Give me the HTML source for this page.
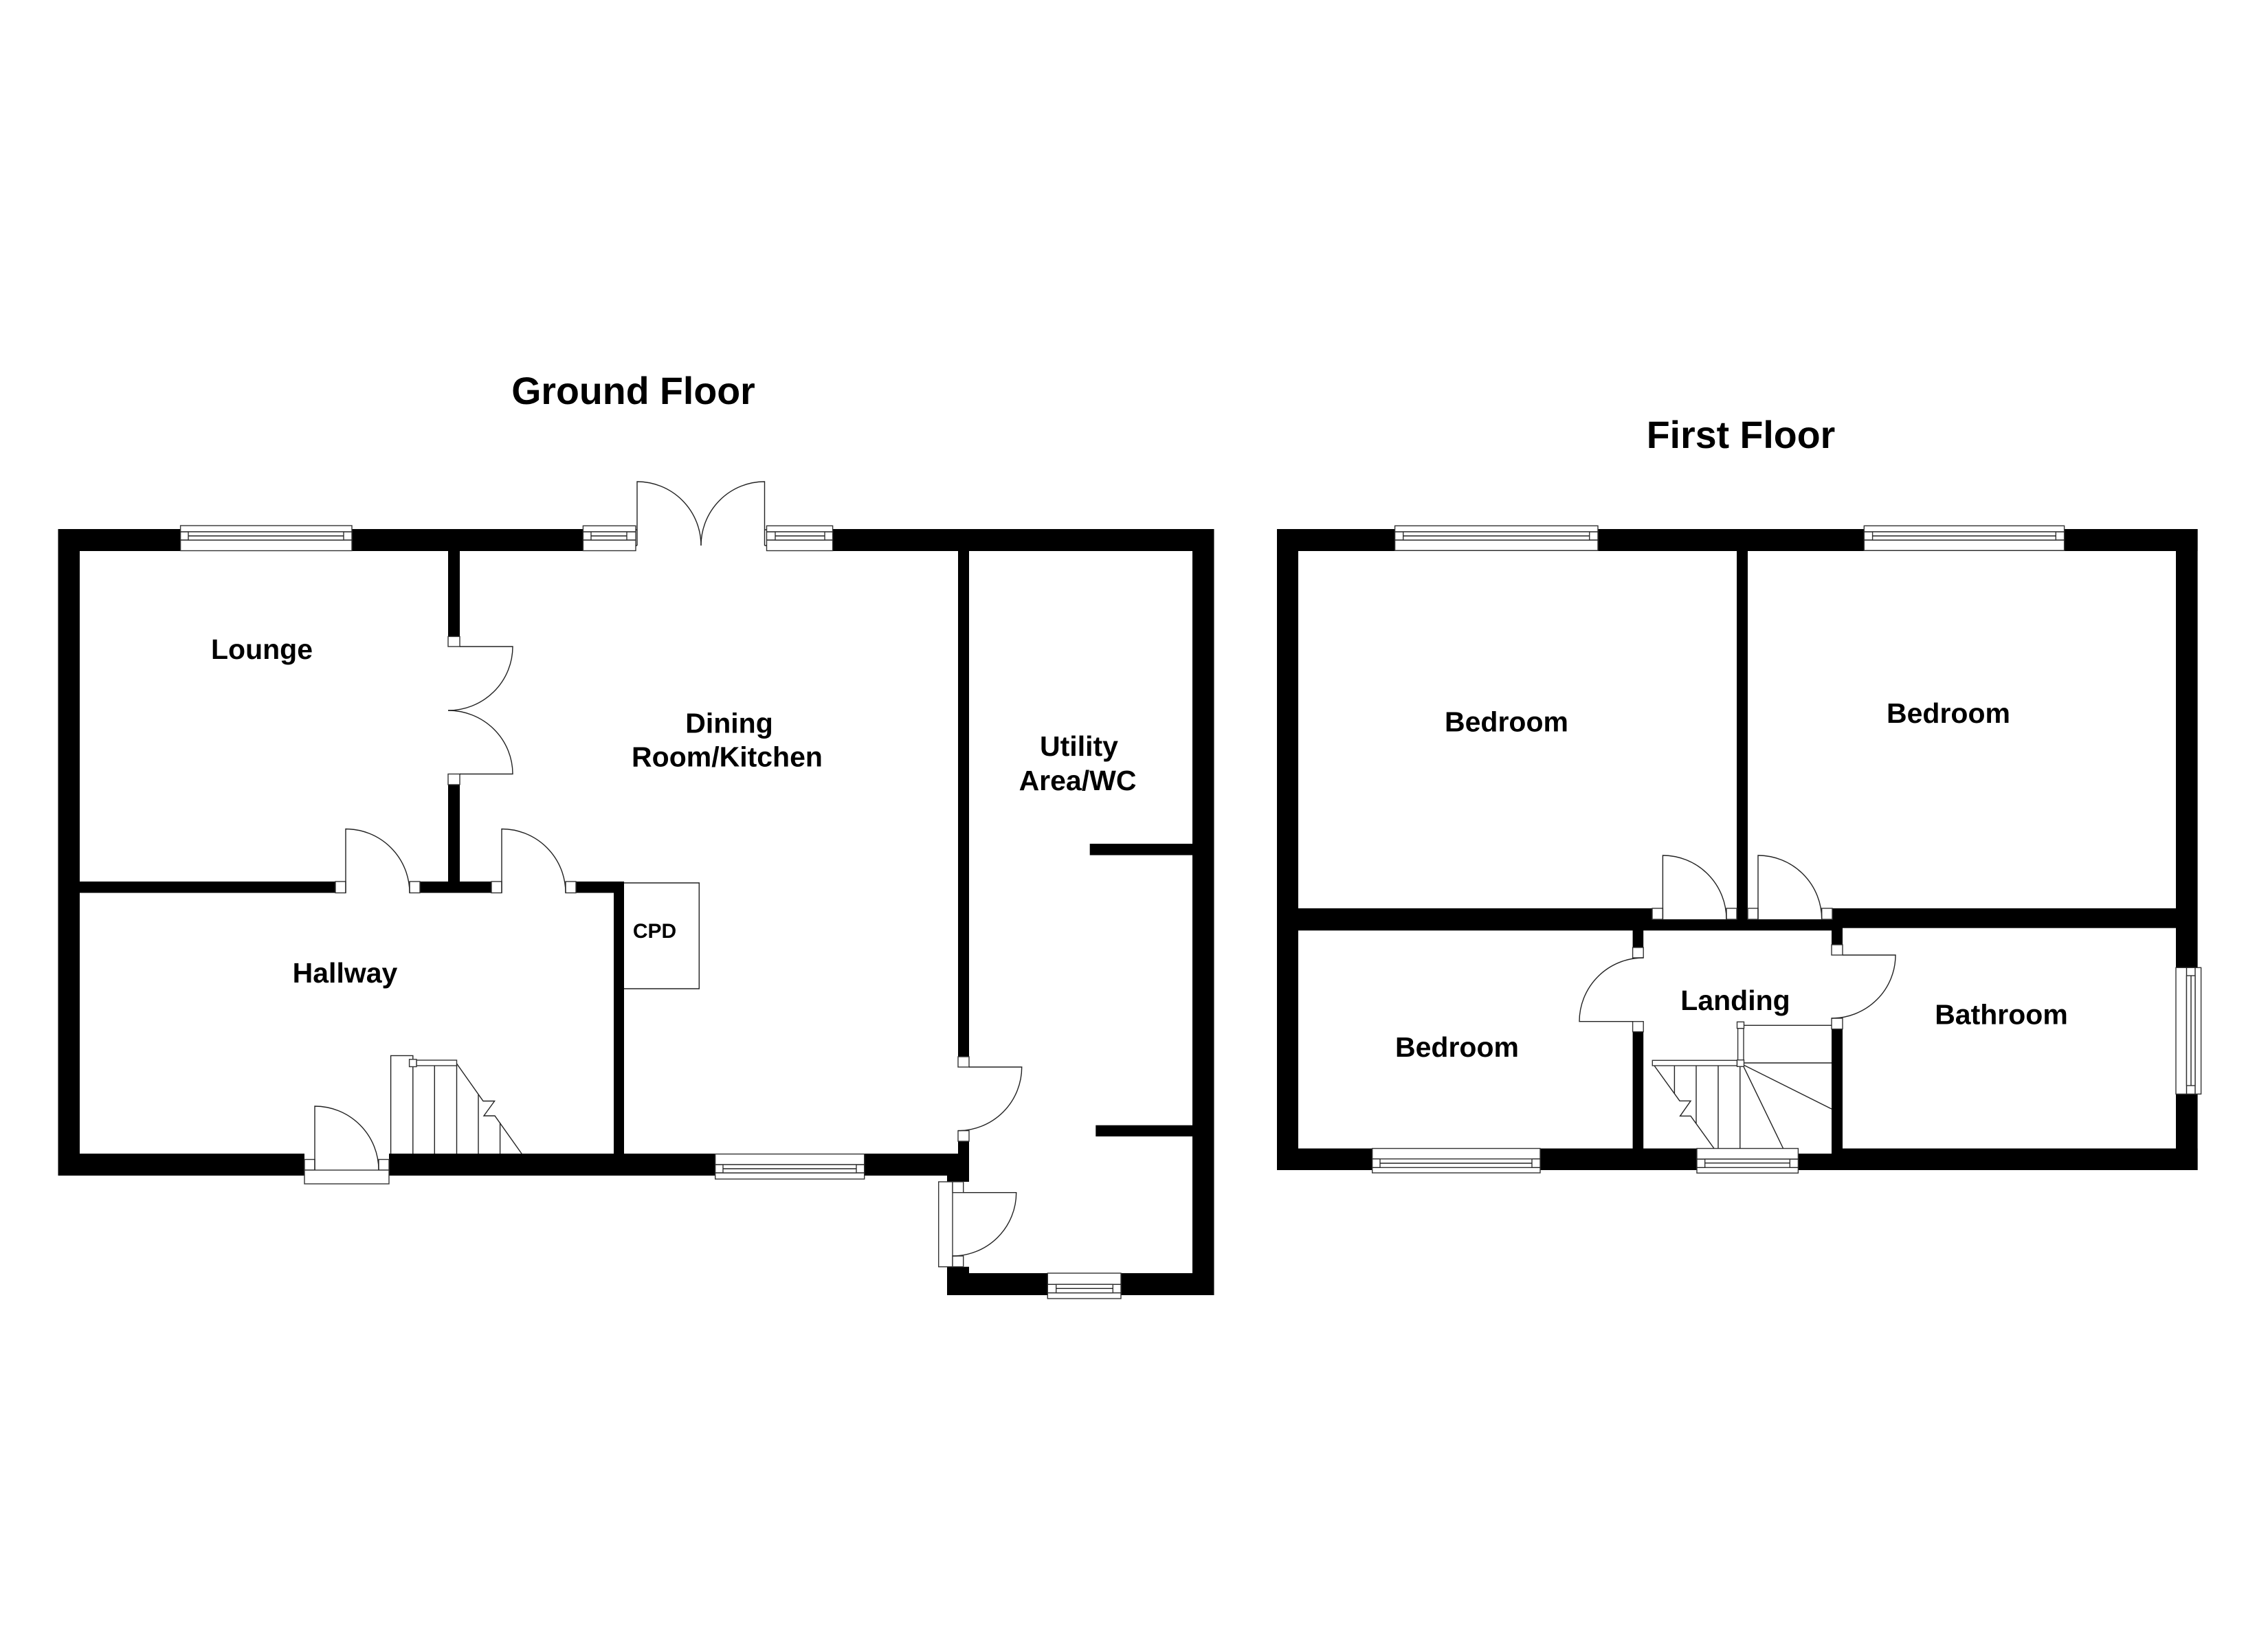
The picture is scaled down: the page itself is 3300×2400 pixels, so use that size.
<!DOCTYPE html>
<html lang="en">
<head>
<meta charset="utf-8">
<title>Floor Plan</title>
<style>
html,body{margin:0;padding:0;background:#fff}
svg{display:block}
.w{fill:#000}
.j{fill:#fff;stroke:#333;stroke-width:1.4}
.g{fill:#fff;stroke:none}
.l{fill:none;stroke:#222;stroke-width:1.4}
text{font-family:"Liberation Sans",Arial,sans-serif;font-weight:700;fill:#000;text-anchor:middle}
.r{font-size:41px}
.t{font-size:55.5px}
</style>
</head>
<body>
<svg xmlns="http://www.w3.org/2000/svg" width="3300" height="2400" viewBox="0 0 3300 2400">
<rect width="3300" height="2400" fill="#fff"/>

<!-- GROUND FLOOR walls -->
<g class="w">
<rect x="84.5" y="770" width="1682" height="32"/>
<rect x="84.5" y="770" width="31.5" height="941"/>
<rect x="84.5" y="1679" width="358.5" height="32"/>
<rect x="566" y="1679" width="844" height="32"/>
<rect x="1394" y="802" width="16" height="736"/>
<rect x="1394" y="1661" width="16" height="59"/>
<rect x="1378" y="1679" width="32" height="41"/>
<rect x="116" y="1283" width="372" height="16.5"/>
<rect x="611" y="1283" width="104" height="16.5"/>
<rect x="838" y="1283" width="70" height="16.5"/>
<rect x="893" y="1283" width="15" height="396"/>
<rect x="652" y="802" width="17" height="124.5"/>
<rect x="652" y="1142" width="17" height="141"/>
<rect x="1735" y="770" width="31.5" height="1115"/>
<rect x="1378" y="1853" width="388.5" height="32"/>
<rect x="1378" y="1843.7" width="32" height="10"/>
<rect x="1585.7" y="1228" width="150" height="16.6"/>
<rect x="1594.3" y="1637.7" width="141" height="16.3"/>
</g>

<!-- Ground: gap in top wall for french door -->
<rect class="g" x="925" y="770" width="191" height="32"/>

<!-- Ground: top window lounge -->
<rect class="j" x="262.6" y="765" width="249.4" height="36.5"/>
<path class="l" d="M262.6 774H512M262.6 786H512"/>
<rect class="j" x="274" y="774" width="226" height="12"/>
<path class="l" d="M274 780H500" stroke="#555"/>

<!-- Ground: top window left of french door -->
<rect class="j" x="848.4" y="765.3" width="76.6" height="36.2"/>
<path class="l" d="M848.4 774H925M848.4 786H925"/>
<rect class="j" x="860" y="774" width="52" height="12"/>
<path class="l" d="M860 780H912"/>

<!-- Ground: top window right of french door -->
<rect class="j" x="1115.5" y="765.3" width="96.1" height="36.2"/>
<path class="l" d="M1115.5 774H1211.6M1115.5 786H1211.6"/>
<rect class="j" x="1128" y="774" width="72" height="12"/>
<path class="l" d="M1128 780H1200"/>

<!-- French door top -->
<path class="l" d="M927 794V701A93 93 0 0 1 1020 794"/>
<path class="l" d="M1112.5 794V701A92.5 93 0 0 0 1020 794"/>
<path class="l" d="M925 771H927M925 794H927M1112.5 771H1115.5M1112.5 794H1115.5"/>

<!-- Lounge / dining french door -->
<rect class="j" x="652" y="926.4" width="17" height="14.6"/>
<rect class="j" x="652" y="1126.5" width="17" height="15.5"/>
<path class="l" d="M669 941H746A94 93 0 0 1 652 1034"/>
<path class="l" d="M669 1126.5H746A94 92.5 0 0 0 652 1034"/>

<!-- Lounge / hall door -->
<rect class="j" x="488" y="1283" width="15" height="16.5"/>
<rect class="j" x="596" y="1283" width="15" height="16.5"/>
<path class="l" d="M503 1299.5V1206.5A93 93 0 0 1 596 1299.5"/>

<!-- Hall / dining door -->
<rect class="j" x="715" y="1283" width="15" height="16.5"/>
<rect class="j" x="823" y="1283" width="15" height="16.5"/>
<path class="l" d="M730 1299.5V1206.5A93 93 0 0 1 823 1299.5"/>

<!-- CPD -->
<path class="l" d="M908 1285H1017.3V1439H908" stroke="#555"/>

<!-- Front door -->
<rect class="j" x="443" y="1687.5" width="15" height="15.5"/>
<rect class="j" x="551" y="1687.5" width="15" height="15.5"/>
<rect class="j" x="443" y="1703" width="123" height="20"/>
<path class="l" d="M458 1703V1610A93 93 0 0 1 551 1703"/>

<!-- Ground stairs -->
<path class="l" d="M568.6 1679V1536.4H600.8V1679"/>
<rect class="j" x="606" y="1543" width="58.5" height="8"/>
<rect class="j" x="595.6" y="1541.8" width="10.4" height="10.7"/>
<path class="l" d="M632.3 1551V1679M664.5 1551V1679M696 1593V1679M727.6 1634V1679"/>
<path class="l" d="M664.5 1548L703 1602.5H719.6L704 1624H720L759 1679"/>

<!-- Dining bottom window -->
<rect class="j" x="1040.7" y="1679.6" width="217" height="36.4"/>
<path class="l" d="M1040.7 1695H1257.7M1040.7 1707H1257.7"/>
<rect class="j" x="1052" y="1695" width="194" height="12"/>
<path class="l" d="M1052 1701H1246"/>

<!-- Utility door from dining -->
<rect class="j" x="1394" y="1538" width="16" height="15"/>
<rect class="j" x="1394" y="1645.6" width="16" height="15.4"/>
<path class="l" d="M1410 1553H1486.7A92.7 92.6 0 0 1 1394 1645.6"/>

<!-- Utility outer door -->
<rect class="j" x="1365.7" y="1720" width="20.3" height="123.7"/>
<rect class="j" x="1386" y="1720" width="15.7" height="15.7"/>
<rect class="j" x="1386" y="1828" width="15.7" height="15.7"/>
<path class="l" d="M1401.7 1735.7H1478.7A92.7 92.3 0 0 1 1386 1828"/>

<!-- Utility bottom window -->
<rect class="j" x="1524.3" y="1853" width="106.7" height="37"/>
<path class="l" d="M1524.3 1869.3H1631M1524.3 1881.7H1631"/>
<rect class="j" x="1536.7" y="1869.3" width="82.6" height="12.4"/>
<path class="l" d="M1536.7 1875.3H1619.3"/>

<!-- FIRST FLOOR walls -->
<g class="w">
<rect x="1858" y="770" width="1339.6" height="32"/>
<rect x="1858" y="770" width="31" height="933"/>
<rect x="3166" y="770" width="31.6" height="638.3"/>
<rect x="3166" y="1592.3" width="31.6" height="110.7"/>
<rect x="1858" y="1671.5" width="139" height="31.5"/>
<rect x="2241" y="1671.5" width="228" height="31.5"/>
<rect x="2616" y="1679" width="65" height="24"/>
<rect x="2681" y="1671.5" width="516.6" height="31.5"/>
<rect x="2527" y="802" width="16" height="536"/>
<rect x="1889" y="1322" width="515" height="32.3"/>
<rect x="2404" y="1338" width="277" height="16.3"/>
<rect x="2666" y="1322" width="500" height="28.7"/>
<rect x="2375.6" y="1354" width="15.6" height="25"/>
<rect x="2375.6" y="1501.7" width="15.6" height="170"/>
<rect x="2665" y="1350" width="16" height="25"/>
<rect x="2665" y="1497.7" width="16" height="181.5"/>
</g>

<!-- First floor: top windows -->
<rect class="j" x="2029.6" y="765.3" width="295.4" height="35.9"/>
<path class="l" d="M2029.6 774H2325M2029.6 786H2325"/>
<rect class="j" x="2041.7" y="774" width="271" height="12"/>
<path class="l" d="M2041.7 780H2312.7"/>

<rect class="j" x="2712.3" y="765.3" width="291.3" height="35.9"/>
<path class="l" d="M2712.3 774H3003.6M2712.3 786H3003.6"/>
<rect class="j" x="2724.6" y="774" width="266.7" height="12"/>
<path class="l" d="M2724.6 780H2991.3"/>

<!-- Bathroom window -->
<rect class="j" x="3166" y="1408.3" width="36.6" height="184"/>
<path class="l" d="M3181.5 1408.3V1592.3M3194 1408.3V1592.3"/>
<rect class="j" x="3181.5" y="1420" width="12.5" height="160"/>
<path class="l" d="M3188 1420V1580"/>

<!-- Bedroom 3 window -->
<rect class="j" x="1996.7" y="1671.5" width="244.3" height="35.5"/>
<path class="l" d="M1996.7 1686.7H2241M1996.7 1699.3H2241"/>
<rect class="j" x="2008" y="1686.7" width="221" height="12.6"/>
<path class="l" d="M2008 1693H2229"/>

<!-- Landing window -->
<rect class="j" x="2469" y="1671.5" width="147.4" height="35.8"/>
<path class="l" d="M2469 1687H2616.4M2469 1699.3H2616.4"/>
<rect class="j" x="2480.7" y="1687" width="123.6" height="12.3"/>
<path class="l" d="M2480.7 1692.7H2604.3"/>

<!-- First floor bedroom doors -->
<rect class="j" x="2404" y="1322" width="15.4" height="16"/>
<rect class="j" x="2512" y="1322" width="15" height="16"/>
<path class="l" d="M2419.4 1338V1245A92.6 93 0 0 1 2512 1338"/>
<rect class="j" x="2543" y="1322" width="15" height="16"/>
<rect class="j" x="2650.7" y="1322" width="15.3" height="16"/>
<path class="l" d="M2558 1338V1245A92.7 93 0 0 1 2650.7 1338"/>

<!-- Landing left door -->
<rect class="j" x="2375.6" y="1379" width="15.6" height="15"/>
<rect class="j" x="2375.6" y="1486.7" width="15.6" height="15"/>
<path class="l" d="M2391.2 1394A93 92.7 0 0 0 2298 1486.7H2375.6"/>

<!-- Landing right door -->
<rect class="j" x="2665" y="1375" width="16" height="15"/>
<rect class="j" x="2665" y="1482" width="16" height="15.7"/>
<path class="l" d="M2681 1390H2758A93 92 0 0 1 2665 1482"/>

<!-- First floor stairs -->
<path class="l" d="M2537.5 1492.3H2665M2537.5 1547H2665M2537 1550L2665 1614M2536.8 1552L2594.6 1671.5"/>
<path class="l" d="M2531.8 1552V1671.5M2500 1551V1671.5M2468 1551V1635M2436.4 1551V1591.7"/>
<path class="l" d="M2407 1551L2444 1602.3H2460L2444.6 1624.3H2460L2494 1671.5"/>
<rect class="j" x="2404.3" y="1543.3" width="123.2" height="7.7"/>
<rect class="j" x="2528.6" y="1496.7" width="8.4" height="46"/>
<rect class="j" x="2527.5" y="1487.3" width="10" height="9.4"/>
<rect class="j" x="2527.5" y="1542.7" width="10" height="9.6"/>

<!-- Titles -->
<text class="t" x="921.5" y="588">Ground Floor</text>
<text class="t" x="2533" y="652">First Floor</text>

<!-- Ground labels -->
<text class="r" x="381" y="959">Lounge</text>
<text class="r" x="502" y="1430">Hallway</text>
<text class="r" x="1061" y="1066.5">Dining</text>
<text class="r" x="1058" y="1115.5">Room/Kitchen</text>
<text x="952.5" y="1365" style="font-size:30px">CPD</text>
<text class="r" x="1570" y="1100">Utility</text>
<text class="r" x="1568" y="1150">Area/WC</text>

<!-- First floor labels -->
<text class="r" x="2192" y="1064.5">Bedroom</text>
<text class="r" x="2835" y="1052">Bedroom</text>
<text class="r" x="2120" y="1538">Bedroom</text>
<text class="r" x="2525" y="1470">Landing</text>
<text class="r" x="2912" y="1490.7">Bathroom</text>
</svg>
</body>
</html>
